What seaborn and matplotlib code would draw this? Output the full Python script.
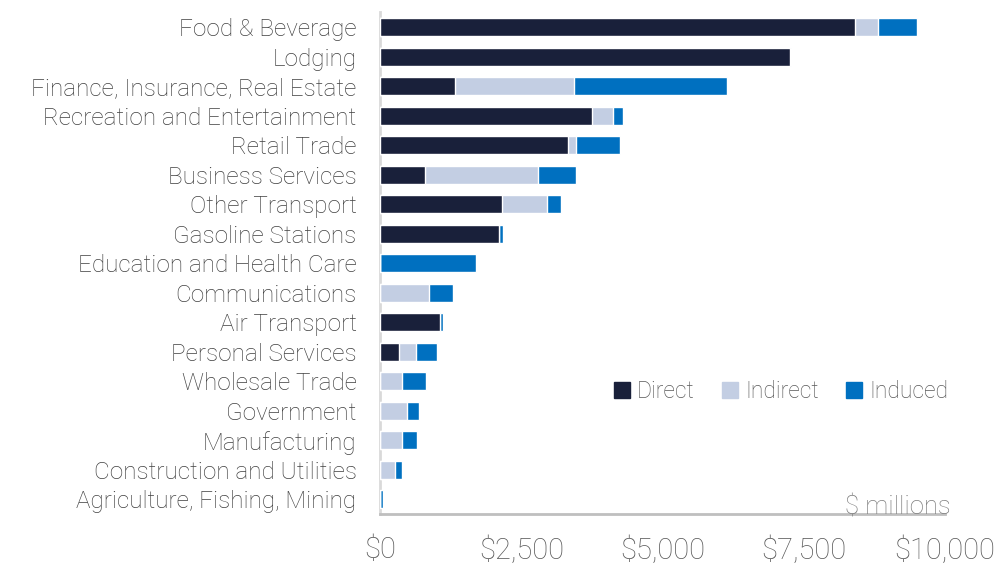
import matplotlib
matplotlib.use("Agg")
import matplotlib.pyplot as plt
import seaborn as sns
import pandas as pd
from matplotlib.patches import Patch

categories = ["Food & Beverage", "Lodging", "Finance, Insurance, Real Estate",
              "Recreation and Entertainment", "Retail Trade", "Business Services",
              "Other Transport", "Gasoline Stations", "Education and Health Care",
              "Communications", "Air Transport", "Personal Services", "Wholesale Trade",
              "Government", "Manufacturing", "Construction and Utilities",
              "Agriculture, Fishing, Mining"]
direct = [8410, 7260, 1320, 3760, 3330, 800, 2160, 2100, 0, 0, 1060, 340, 0, 0, 0, 0, 0]
indirect = [400, 0, 2110, 360, 130, 1990, 790, 10, 0, 860, 0, 300, 380, 480, 380, 255, 0]
induced = [690, 20, 2710, 185, 780, 680, 255, 65, 1700, 425, 47, 367, 425, 212, 273, 140, 50]
xticks = [0, 2500, 5000, 7500, 10000]
xtick_labels = ["$0", "$2,500", "$5,000", "$7,500", "$10,000"]

c_direct = "#19203A"
c_indirect = "#C3CEE3"
c_induced = "#0070C0"

df = pd.DataFrame({"cat": categories, "direct": direct,
                   "indirect": indirect, "induced": induced})
df["d_i"] = df["direct"] + df["indirect"]
df["total"] = df["d_i"] + df["induced"]

sns.set_style("white")
plt.rcParams["font.family"] = ["Roboto", "DejaVu Sans"]

fig = plt.figure(figsize=(10.03, 5.66), dpi=100)
ax = fig.add_axes([0.379, 0.092, 0.563, 0.886])

# stacked bars: draw cumulative totals back to front
sns.barplot(data=df, x="total", y="cat", orient="h", color=c_induced,
            width=0.61, saturation=1, ax=ax, zorder=3)
sns.barplot(data=df, x="d_i", y="cat", orient="h", color=c_indirect,
            width=0.61, saturation=1, ax=ax, zorder=3)
sns.barplot(data=df, x="direct", y="cat", orient="h", color=c_direct,
            width=0.61, saturation=1, ax=ax, zorder=3)

ax.set_xlim(0, 10000)
ax.set_xticks(xticks)
ax.set_xticklabels(xtick_labels, fontsize=21, color="#595959", fontweight="light")
ax.tick_params(axis="x", length=0, pad=16)
ax.tick_params(axis="y", length=0, pad=17, labelsize=17.5, labelcolor="#404040")
for t in ax.get_yticklabels():
    t.set_fontweight("light")
ax.set_xlabel("")
ax.set_ylabel("")

for s in ["top", "right"]:
    ax.spines[s].set_visible(False)
ax.spines["left"].set_color("#D9D9D9")
ax.spines["left"].set_linewidth(2)
ax.spines["left"].set_zorder(1)
ax.spines["bottom"].set_color("#BFBFBF")
ax.spines["bottom"].set_linewidth(2)

ax.text(1.011, -0.012, "$ millions", transform=ax.transAxes, ha="right", va="bottom",
        fontsize=18.5, color="#7F7F7F", fontweight="light")

handles = [Patch(color=c_direct, label="Direct"),
           Patch(color=c_indirect, label="Indirect"),
           Patch(color=c_induced, label="Induced")]
leg = ax.legend(handles=handles, ncol=3, frameon=False, loc="center",
                bbox_to_anchor=(0.71, 0.245), fontsize=16.5, handlelength=0.7,
                handleheight=0.7, handletextpad=0.3, columnspacing=1.2)
for t in leg.get_texts():
    t.set_color("#595959")
    t.set_fontweight("light")

fig.savefig("out.png", dpi=100)
